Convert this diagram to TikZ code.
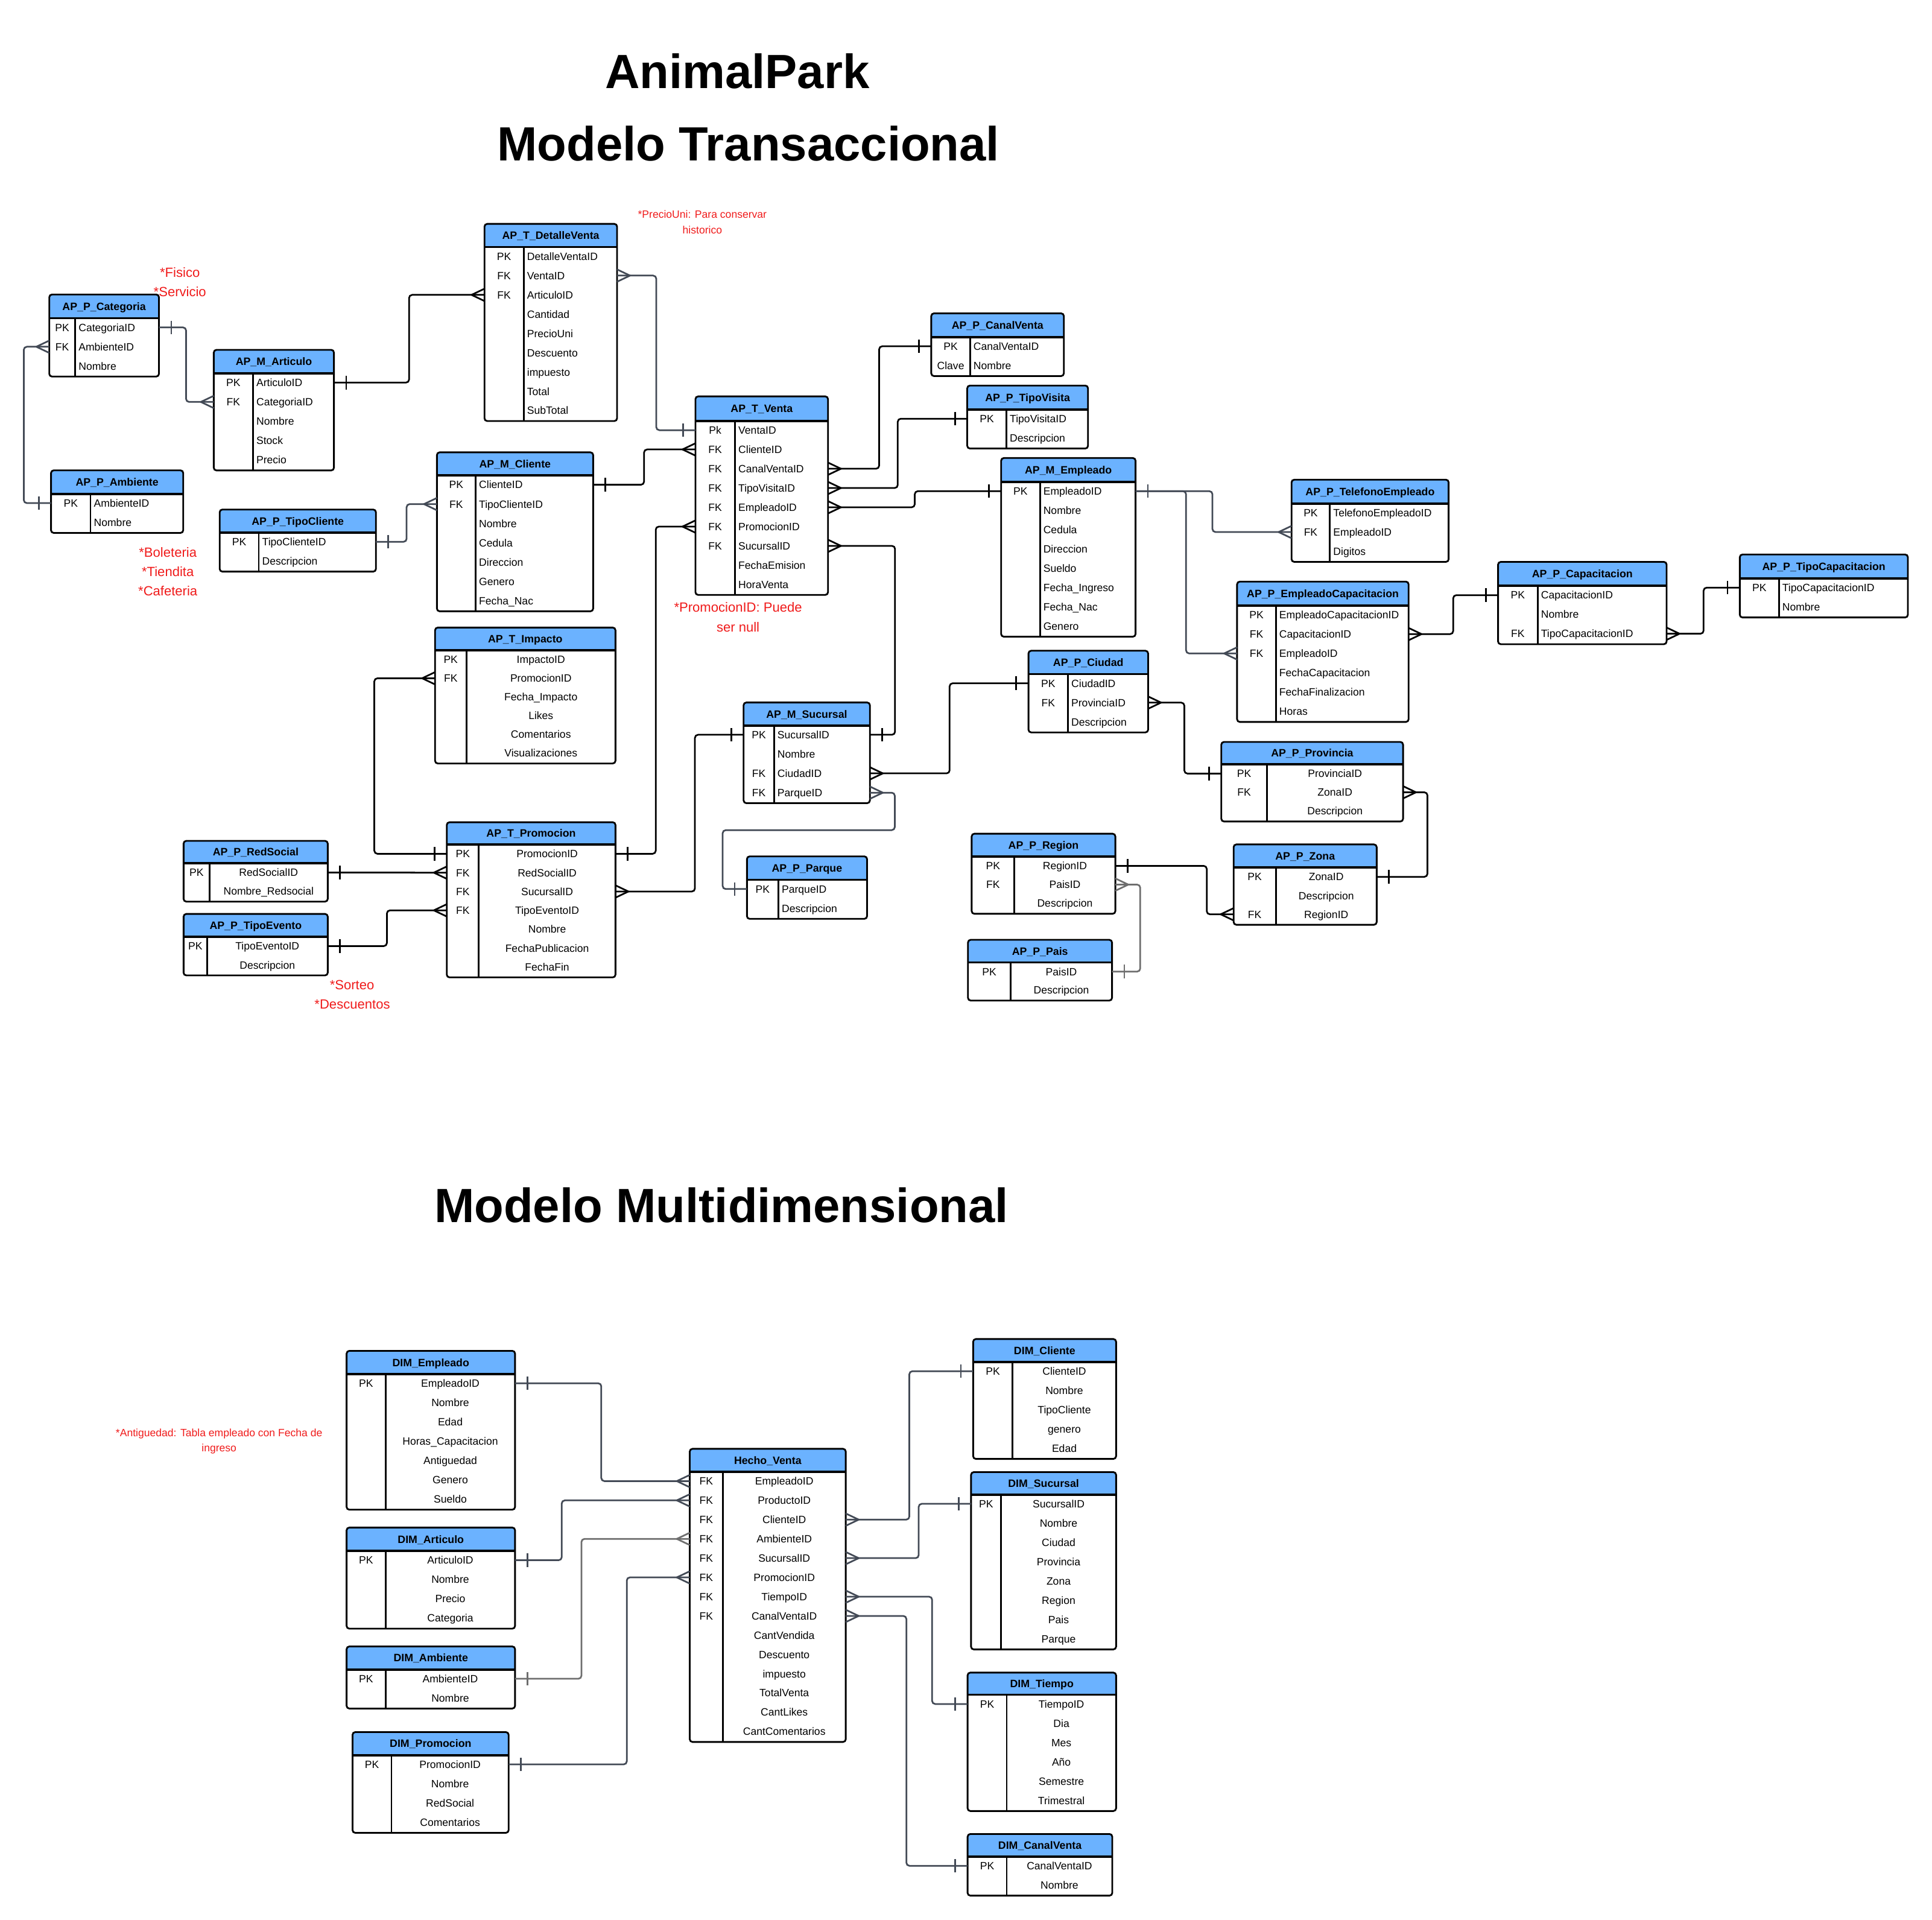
\documentclass[tikz,border=0pt]{standalone}
\usepackage{fontspec}
\setmainfont{Liberation Sans}
\usetikzlibrary{calc}
\definecolor{hdrblue}{HTML}{6BB2FF}
\definecolor{slate}{HTML}{434A56}
\definecolor{lgray}{HTML}{6E6E6E}
\definecolor{notered}{HTML}{F01B1B}
\def\erAlign{L}
\def\erAlignL{L}
% #1 name, #2 x1, #3 x2, #4 separator x, #5 top, #6 first row centre, #7 row height, #8 title, #9 rows
\newcommand{\ertable}[9]{%
  \pgfmathsetmacro{\erHB}{#6-7.5}%
  \pgfmathsetmacro{\erKX}{(#2+#4)/2}%
  \pgfmathsetmacro{\erVX}{(#4+#3)/2}%
  \pgfmathsetmacro{\erLX}{#4+2.6}%
  \pgfmathsetmacro{\erTX}{(#2+#3)/2}%
  \pgfmathsetmacro{\erTY}{(#5+\erHB)/2+3.1}%
  \foreach \k/\f [count=\i] in {#9} {\xdef\erN{\i}}%
  \pgfmathsetmacro{\erBot}{#6+(\erN-1)*#7+8.5}%
  \begin{scope}
    \clip[rounded corners=2.2] (#2,#5) rectangle (#3,\erBot);
    \fill[hdrblue] (#2,#5) rectangle (#3,\erHB);
  \end{scope}
  \draw[tblline, rounded corners=2.2] (#2,#5) rectangle (#3,\erBot);
  \draw[hdrline] (#2,\erHB) -- (#3,\erHB);
  \draw[tblline] (#4,\erHB) -- (#4,\erBot);
  \node[hdrtext] (#1T) at (\erTX,\erTY) {#8};
  \foreach \k/\f [count=\i] in {#9} {%
    \pgfmathsetmacro{\ry}{#6+(\i-1)*#7}%
    \pgfmathsetmacro{\rb}{\ry+3.1}%
    \coordinate (#1W\i) at (#2,\ry);
    \coordinate (#1E\i) at (#3,\ry);
    \node[fieldtext] (#1K\i) at (\erKX,\rb) {\k};
    \ifx\erAlign\erAlignL
      \node[fieldtext, anchor=base west] (#1F\i) at (\erLX,\rb) {\f};
    \else
      \node[fieldtext] (#1F\i) at (\erVX,\rb) {\f};
    \fi
  }%
}
\newcommand{\conn}[4][]{%
  \coordinate (cxtmp) at (#3,0);
  \draw[conn,#1] (#2) -- (#2 -| cxtmp) -- (#4 -| cxtmp) -- (#4);}
\newcommand{\cfR}[2][]{\draw[endmark,#1] ($(#2)+(0,-5)$) -- ($(#2)+(10.5,0)$) -- ($(#2)+(0,5)$);}
\newcommand{\cfL}[2][]{\draw[endmark,#1] ($(#2)+(0,-5)$) -- ($(#2)+(-10.5,0)$) -- ($(#2)+(0,5)$);}
\newcommand{\omR}[2][]{\draw[endmark,#1] ($(#2)+(10,-5.5)$) -- ($(#2)+(10,5.5)$);}
\newcommand{\omL}[2][]{\draw[endmark,#1] ($(#2)+(-10,-5.5)$) -- ($(#2)+(-10,5.5)$);}
\begin{document}
\begin{tikzpicture}[x=1pt,y=-1pt,
  hdrtext/.style={font=\bfseries\fontsize{8.7}{10}\selectfont, anchor=base, inner sep=0pt},
  fieldtext/.style={font=\fontsize{8.6}{10}\selectfont, anchor=base, inner sep=0pt},
  tblline/.style={line width=1.4pt, draw=black},
  hdrline/.style={line width=1.8pt, draw=black},
  conn/.style={line width=1.35pt, draw=black, rounded corners=2.5},
  endmark/.style={line width=1.35pt, draw=black, sharp corners, line join=round},
  note/.style={font=\fontsize{10.8}{13}\selectfont, text=notered, anchor=base, inner sep=0pt},
  smallnote/.style={font=\fontsize{8.6}{10}\selectfont, text=notered, anchor=base, inner sep=0pt},
  titletext/.style={font=\bfseries\fontsize{39}{44}\selectfont, anchor=base, inner sep=0pt}]
\fill[white] (0,0) rectangle (1568,1558);
\useasboundingbox (0,0) rectangle (1568,1558);

% titles
\node[titletext] (tAP) at (598.4,71.5) {AnimalPark};
\node[titletext] (tMT) at (607.4,130.5) {Modelo Transaccional};
\node[titletext] (tMM) at (585.5,992) {Modelo Multidimensional};

% notes
\node[note] (nFis) at (146,224.9) {*Fisico};
\node[note] (nSer) at (146,240.6) {*Servicio};
\node[note] (nBol) at (136.2,452.3) {*Boleteria};
\node[note] (nTie) at (136.2,467.6) {*Tiendita};
\node[note] (nCaf) at (136.2,483.3) {*Cafeteria};
\node[smallnote] (nPre) at (570,177) {*PrecioUni: Para conservar};
\node[smallnote] (nHis) at (570,189.5) {historico};
\node[note] (nPro) at (599,496.8) {*PromocionID: Puede};
\node[note] (nNul) at (599,512.7) {ser null};
\node[note] (nSor) at (285.7,803.2) {*Sorteo};
\node[note] (nDes) at (285.9,818.7) {*Descuentos};
\node[smallnote] (nAnt) at (177.8,1165.7) {*Antiguedad: Tabla empleado con Fecha de};
\node[smallnote] (nIng) at (177.8,1178.1) {ingreso};

% ---------- transactional tables ----------
\def\erAlign{L}
\ertable{cat}{40}{129}{61}{239}{265.7}{15.7}{AP\_P\_Categoria}{PK/CategoriaID, FK/AmbienteID, {}/Nombre}
\ertable{art}{173.5}{271}{205.3}{283.9}{310.5}{15.7}{AP\_M\_Articulo}{PK/ArticuloID, FK/CategoriaID, {}/Nombre, {}/Stock, {}/Precio}
\ertable{amb}{41.4}{148.7}{73.4}{381.7}{408.3}{15.7}{AP\_P\_Ambiente}{PK/AmbienteID, {}/Nombre}
\ertable{tcl}{178.3}{305.1}{210}{413.5}{439.7}{15.7}{AP\_P\_TipoCliente}{PK/TipoClienteID, {}/Descripcion}
\ertable{cli}{354.6}{481.4}{386}{367.1}{393.4}{15.7}{AP\_M\_Cliente}{PK/ClienteID, FK/TipoClienteID, {}/Nombre, {}/Cedula, {}/Direccion, {}/Genero, {}/Fecha\_Nac}
\ertable{det}{393.2}{500.8}{425}{181.7}{208}{15.65}{AP\_T\_DetalleVenta}{PK/DetalleVentaID, FK/VentaID, FK/ArticuloID, {}/Cantidad, {}/PrecioUni, {}/Descuento, {}/impuesto, {}/Total, {}/SubTotal}
\ertable{ven}{564.4}{672}{596.5}{321.7}{349.1}{15.65}{AP\_T\_Venta}{Pk/VentaID, FK/ClienteID, FK/CanalVentaID, FK/TipoVisitaID, FK/EmpleadoID, FK/PromocionID, FK/SucursalID, {}/FechaEmision, {}/HoraVenta}
\ertable{can}{755.8}{863.4}{787.3}{254.3}{281}{15.7}{AP\_P\_CanalVenta}{PK/CanalVentaID, Clave/Nombre}
\ertable{tvi}{785}{883}{816.8}{312.9}{339.8}{15.7}{AP\_P\_TipoVisita}{PK/TipoVisitaID, {}/Descripcion}
\ertable{emp}{812.5}{921.6}{844}{371.7}{398.6}{15.66}{AP\_M\_Empleado}{PK/EmpleadoID, {}/Nombre, {}/Cedula, {}/Direccion, {}/Sueldo, {}/Fecha\_Ingreso, {}/Fecha\_Nac, {}/Genero}
\ertable{tel}{1048.2}{1175.7}{1079.3}{389.3}{416.1}{15.7}{AP\_P\_TelefonoEmpleado}{PK/TelefonoEmpleadoID, FK/EmpleadoID, {}/Digitos}
\ertable{ecap}{1004}{1143.2}{1035.5}{472}{498.9}{15.7}{AP\_P\_EmpleadoCapacitacion}{PK/EmpleadoCapacitacionID, FK/CapacitacionID, FK/EmpleadoID, {}/FechaCapacitacion, {}/FechaFinalizacion, {}/Horas}
\ertable{cap}{1215.8}{1352.6}{1247.9}{456}{483}{15.65}{AP\_P\_Capacitacion}{PK/CapacitacionID, {}/Nombre, FK/TipoCapacitacionID}
\ertable{tcap}{1412}{1548.4}{1443.7}{450}{476.9}{15.7}{AP\_P\_TipoCapacitacion}{PK/TipoCapacitacionID, {}/Nombre}
\ertable{suc}{603.5}{706}{628.2}{570.1}{596.3}{15.67}{AP\_M\_Sucursal}{PK/SucursalID, {}/Nombre, FK/CiudadID, FK/ParqueID}
\ertable{par}{606.2}{703.7}{631.7}{695}{721.5}{15.7}{AP\_P\_Parque}{PK/ParqueID, {}/Descripcion}
\ertable{ciu}{834.7}{931.8}{866.7}{528.1}{554.5}{15.7}{AP\_P\_Ciudad}{PK/CiudadID, FK/ProvinciaID, {}/Descripcion}
\def\erAlign{C}
\ertable{imp}{353.1}{499.5}{378.5}{509.3}{535.3}{15.16}{AP\_T\_Impacto}{PK/ImpactoID, FK/PromocionID, {}/Fecha\_Impacto, {}/Likes, {}/Comentarios, {}/Visualizaciones}
\ertable{pro}{362.6}{499.5}{388.6}{667.3}{692.9}{15.3}{AP\_T\_Promocion}{PK/PromocionID, FK/RedSocialID, FK/SucursalID, FK/TipoEventoID, {}/Nombre, {}/FechaPublicacion, {}/FechaFin}
\ertable{red}{149}{266}{170}{682.4}{708.1}{15.1}{AP\_P\_RedSocial}{PK/RedSocialID, {}/Nombre\_Redsocial}
\ertable{tev}{149}{266}{168}{741.7}{767.8}{15.3}{AP\_P\_TipoEvento}{PK/TipoEventoID, {}/Descripcion}
\ertable{prv}{991.2}{1138.7}{1028.2}{602.1}{627.8}{15.2}{AP\_P\_Provincia}{PK/ProvinciaID, FK/ZonaID, {}/Descripcion}
\ertable{reg}{788.6}{905.2}{823.3}{676.6}{702.7}{15.2}{AP\_P\_Region}{PK/RegionID, FK/PaisID, {}/Descripcion}
\ertable{zon}{1001.2}{1117.3}{1035.4}{685.3}{711.6}{15.2}{AP\_P\_Zona}{PK/ZonaID, {}/Descripcion, FK/RegionID}
\ertable{pai}{785.6}{902.5}{820.2}{762.7}{788.5}{15}{AP\_P\_Pais}{PK/PaisID, {}/Descripcion}

% ---------- multidimensional tables ----------
\ertable{dEmp}{281.3}{418}{312.9}{1096.3}{1122.6}{15.68}{DIM\_Empleado}{PK/EmpleadoID, {}/Nombre, {}/Edad, {}/Horas\_Capacitacion, {}/Antiguedad, {}/Genero, {}/Sueldo}
\ertable{dArt}{281.3}{418}{312.9}{1239.7}{1266.2}{15.68}{DIM\_Articulo}{PK/ArticuloID, {}/Nombre, {}/Precio, {}/Categoria}
\ertable{dAmb}{281.3}{418}{312.9}{1336.2}{1362.4}{15.68}{DIM\_Ambiente}{PK/AmbienteID, {}/Nombre}
\ertable{dPro}{286.1}{412.8}{317.7}{1405.7}{1431.9}{15.68}{DIM\_Promocion}{PK/PromocionID, {}/Nombre, {}/RedSocial, {}/Comentarios}
\ertable{hv}{559.8}{686.4}{586.6}{1175.8}{1202}{15.63}{Hecho\_Venta}{FK/EmpleadoID, FK/ProductoID, FK/ClienteID, FK/AmbienteID, FK/SucursalID, FK/PromocionID, FK/TiempoID, FK/CanalVentaID, {}/CantVendida, {}/Descuento, {}/impuesto, {}/TotalVenta, {}/CantLikes, {}/CantComentarios}
\ertable{dCli}{789.8}{905.8}{821.8}{1086.7}{1112.8}{15.67}{DIM\_Cliente}{PK/ClienteID, {}/Nombre, {}/TipoCliente, {}/genero, {}/Edad}
\ertable{dSuc}{788.1}{905.8}{812.5}{1194.7}{1220.4}{15.67}{DIM\_Sucursal}{PK/SucursalID, {}/Nombre, {}/Ciudad, {}/Provincia, {}/Zona, {}/Region, {}/Pais, {}/Parque}
\ertable{dTie}{785.3}{905.8}{817}{1357.4}{1382.9}{15.67}{DIM\_Tiempo}{PK/TiempoID, {}/Dia, {}/Mes, {}/Año, {}/Semestre, {}/Trimestral}
\ertable{dCan}{785.3}{902.7}{817}{1488.4}{1514.2}{15.7}{DIM\_CanalVenta}{PK/CanalVentaID, {}/Nombre}

% ---------- transactional connectors ----------
\conn[slate]{catE1}{151}{artW2} \omR[slate]{catE1} \cfL[slate]{artW2}
\conn[slate]{catW2}{19.3}{ambW1} \cfL[slate]{catW2} \omL[slate]{ambW1}
\conn{artE1}{332}{detW3} \omR{artE1} \cfL{detW3}
\conn[slate]{detE2}{532.6}{venW1} \cfR[slate]{detE2} \omL[slate]{venW1}
\conn{cliE1}{522.7}{venW2} \omR{cliE1} \cfL{venW2}
\conn[slate]{tclE1}{330}{cliW2} \omR[slate]{tclE1} \cfL[slate]{cliW2}
\conn{venE3}{713.5}{canW1} \cfR{venE3} \omL{canW1}
\conn{venE4}{728.6}{tviW1} \cfR{venE4} \omL{tviW1}
\conn{venE5}{742.4}{empW1} \cfR{venE5} \omL{empW1}
\conn{venE7}{726.4}{sucE1} \cfR{venE7} \omR{sucE1}
\conn{venW6}{532.2}{proE1} \cfL{venW6} \omR{proE1}
\conn{impW2}{303.8}{proW1} \cfL{impW2} \omL{proW1}
\draw[conn] (redE1) -- (proW2); \omR{redE1} \cfL{proW2}
\conn{tevE1}{314}{proW4} \omR{tevE1} \cfL{proW4}
\conn{proE3}{564}{sucW1} \cfR{proE3} \omL{sucW1}
\conn{sucE3}{770.7}{ciuW1} \cfR{sucE3} \omL{ciuW1}
\coordinate (pq1) at (726.2,673.7);
\coordinate (pq2) at (586.5,673.7);
\draw[conn,slate] (sucE4) -| (pq1) -- (pq2) |- (parW1);
\cfR[slate]{sucE4} \omL[slate]{parW1}
\conn{ciuE2}{961.2}{prvW1} \cfR{ciuE2} \omL{prvW1}
\conn{prvE2}{1158.5}{zonE1} \cfR{prvE2} \omR{zonE1}
\conn{regE1}{979.4}{zonW3} \omR{regE1} \cfL{zonW3}
\conn[lgray]{regE2}{925.4}{paiE1} \cfR[lgray]{regE2} \omR[lgray]{paiE1}
\conn[slate]{empE1}{984}{telW2} \cfL[slate]{telW2}
\conn[slate]{empE1}{962.6}{ecapW3} \cfL[slate]{ecapW3}
\omR[slate]{empE1}
\conn{ecapE2}{1179.4}{capW1} \cfR{ecapE2} \omL{capW1}
\conn{capE3}{1382.6}{tcapW1} \cfR{capE3} \omL{tcapW1}

% ---------- multidimensional connectors ----------
\conn[slate]{dEmpE1}{488}{hvW1} \omR[slate]{dEmpE1} \cfL[slate]{hvW1}
\conn[slate]{dArtE1}{455.9}{hvW2} \omR[slate]{dArtE1} \cfL[slate]{hvW2}
\conn[lgray]{dAmbE1}{471.9}{hvW4} \omR[lgray]{dAmbE1} \cfL[lgray]{hvW4}
\conn[slate]{dProE1}{508.7}{hvW6} \omR[slate]{dProE1} \cfL[slate]{hvW6}
\conn[slate]{hvE3}{738}{dCliW1} \cfR[slate]{hvE3} \omL[slate]{dCliW1}
\conn[slate]{hvE5}{745.6}{dSucW1} \cfR[slate]{hvE5} \omL[slate]{dSucW1}
\conn[slate]{hvE7}{756.5}{dTieW1} \cfR[slate]{hvE7} \omL[slate]{dTieW1}
\conn[slate]{hvE8}{735.6}{dCanW1} \cfR[slate]{hvE8} \omL[slate]{dCanW1}
\end{tikzpicture}
\end{document}
